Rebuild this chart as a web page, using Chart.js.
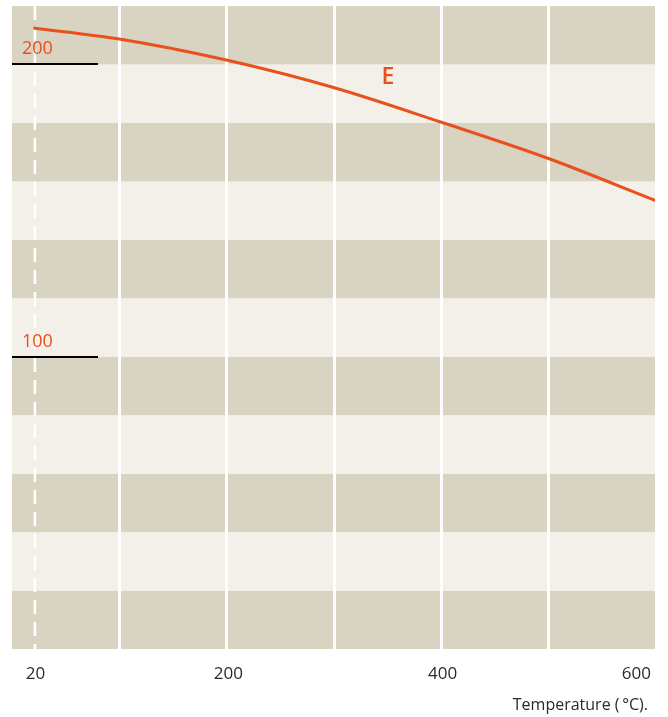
<!DOCTYPE html>
<html>
<head>
<meta charset="utf-8">
<script src="https://cdn.jsdelivr.net/npm/chart.js@4"></script>
<style>
  body { margin: 0; background: #fff; }
  #wrap { width: 668px; height: 717px; position: relative; }
</style>
</head>
<body>
<div id="wrap"><canvas id="grafico"></canvas></div>
<script>
// datos
var temperaturas = [20, 100, 200, 300, 400, 500, 600];
var moduloE = [212.5, 208.7, 201.5, 192.1, 180.3, 167.9, 153.5];
var ticksX = [20, 200, 400, 600];
var lineasX = [100, 200, 300, 400, 500];
var ticksY = [100, 200];
var franjaY = 20;

var naranja = '#e8501c';
var oscuro = '#d9d3c1';
var claro = '#f3f0e9';

var fondo = {
    id: 'fondo',
    beforeDatasetsDraw: function (chart) {
        var ctx = chart.ctx, a = chart.chartArea;
        var x = chart.scales.x, y = chart.scales.y;
        ctx.save();
        // franjas horizontales
        for (var v = 0, i = 0; v < y.max; v += franjaY, i++) {
            var y1 = y.getPixelForValue(v), y2 = y.getPixelForValue(Math.min(v + franjaY, y.max));
            ctx.fillStyle = (i % 2 === 0) ? oscuro : claro;
            ctx.fillRect(a.left, y2, a.right - a.left, y1 - y2);
        }
        // lineas verticales blancas
        ctx.strokeStyle = '#ffffff';
        ctx.lineWidth = 3;
        lineasX.forEach(function (t) {
            var px = Math.round(x.getPixelForValue(t)) + 0.5;
            ctx.beginPath();
            ctx.moveTo(px, a.top);
            ctx.lineTo(px, a.bottom);
            ctx.stroke();
        });
        // linea discontinua en 20
        ctx.lineWidth = 2.5;
        ctx.setLineDash([14, 8]);
        var p20 = x.getPixelForValue(20) + 1.5;
        ctx.beginPath();
        ctx.moveTo(p20, a.top);
        ctx.lineTo(p20, a.bottom);
        ctx.stroke();
        ctx.setLineDash([]);
        ctx.restore();
    },
    afterDatasetsDraw: function (chart) {
        var ctx = chart.ctx, a = chart.chartArea;
        var x = chart.scales.x, y = chart.scales.y;
        ctx.save();
        // marcas del eje y
        ticksY.forEach(function (v) {
            var py = Math.round(y.getPixelForValue(v));
            ctx.strokeStyle = '#000';
            ctx.lineWidth = 2;
            ctx.beginPath();
            ctx.moveTo(a.left, py);
            ctx.lineTo(98, py);
            ctx.stroke();
            ctx.fillStyle = naranja;
            ctx.font = '18px "Open Sans"';
            ctx.textAlign = 'left';
            ctx.textBaseline = 'alphabetic';
            ctx.fillText(String(v), 22, py - 10);
        });
        // etiquetas del eje x
        ctx.fillStyle = '#2a2a2a';
        ctx.font = '17px "Open Sans"';
        ctx.textBaseline = 'middle';
        ticksX.forEach(function (t, i) {
            var px = x.getPixelForValue(t) + 2;
            if (i === ticksX.length - 1) {
                ctx.textAlign = 'right';
                px = a.right - 4;
            } else {
                ctx.textAlign = 'center';
            }
            ctx.fillText(String(t), px, 674);
        });
        ctx.textAlign = 'right';
        ctx.font = '16px "Open Sans"';
        ctx.fillText('Temperature (\u2009°C).', 648, 705);
        // etiqueta de la serie
        ctx.fillStyle = naranja;
        ctx.font = '600 23px "Open Sans"';
        ctx.textAlign = 'center';
        ctx.fillText('E', 388, 77);
        ctx.restore();
    }
};

var ctx = document.getElementById('grafico').getContext('2d');
new Chart(ctx, {
    type: 'line',
    data: {
        datasets: [{
            label: 'E',
            data: temperaturas.map(function (t, i) { return { x: t, y: moduloE[i] }; }),
            borderColor: naranja,
            borderWidth: 3,
            pointRadius: 0,
            cubicInterpolationMode: 'monotone',
            fill: false
        }]
    },
    options: {
        responsive: true,
        maintainAspectRatio: false,
        animation: false,
        layout: { padding: { left: 12, right: 13, top: 6, bottom: 68 } },
        scales: {
            x: { type: 'linear', min: 0, max: 600, display: false },
            y: { min: 0, max: 220, display: false }
        },
        plugins: {
            legend: { display: false },
            tooltip: { enabled: false }
        }
    },
    plugins: [fondo]
});
</script>
</body>
</html>
